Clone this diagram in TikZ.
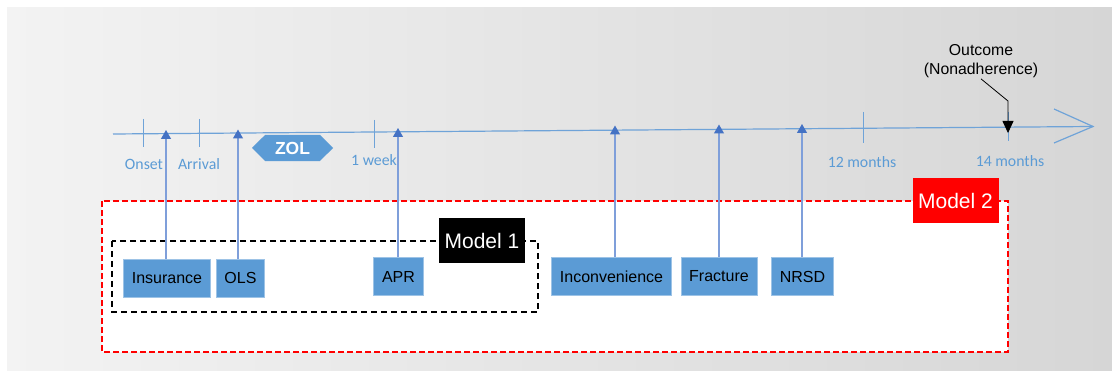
\documentclass[tikz,border=0pt]{standalone}
\usepackage{fontspec}
\setmainfont{Liberation Sans}
\newfontfamily\calf{Carlito}
\usetikzlibrary{arrows.meta,shapes.misc}
\definecolor{bgL}{HTML}{F3F3F3}
\definecolor{bgR}{HTML}{D6D6D6}
\definecolor{boxblue}{HTML}{5B9BD5}
\definecolor{boxedge}{HTML}{9DC3E6}
\definecolor{tline}{HTML}{6FA3D8}
\definecolor{stem}{HTML}{7F9FDA}
\definecolor{headblue}{HTML}{4472C4}
\definecolor{mred}{HTML}{FF0000}
\tikzset{
  factor/.style={fill=boxblue, draw=boxedge, line width=0.8pt, text=black,
    font=\fontsize{16}{18}\selectfont, inner xsep=8.2pt, minimum height=38pt, anchor=center},
  tlabel/.style={text=boxblue, font=\calf\fontsize{15.8}{18}\selectfont},
  tick/.style={draw=tline, line width=1pt},
  upstem/.style={draw=stem, line width=1.1pt, -{Triangle[width=10pt,length=9pt,color=headblue]}},
  modellabel/.style={text=white, font=\fontsize{21}{24}\selectfont, minimum width=86pt, minimum height=45pt, inner sep=0pt},
}
\begin{document}
\begin{tikzpicture}[x=1pt,y=-1pt]
  \useasboundingbox (0,0) rectangle (1112,371);
  \fill[white] (0,0) rectangle (1112,371);
  % gradient backdrop
  \shade[left color=bgL, right color=bgR] (7,8) rectangle (1112,371);

  % Model 2 frame
  \draw[mred, line width=2pt, dash pattern=on 6pt off 3pt, fill=white] (102,201) rectangle (1008,352);
  \node[modellabel, fill=mred] (m2) at (955.5,200.5) {Model 2};

  % Model 1 frame
  \draw[black, line width=1.5pt, dash pattern=on 6pt off 4pt] (112,241) rectangle (538,312);
  \node[modellabel, fill=black] (m1) at (482,240.5) {Model 1};

  % factor boxes
  \node[factor] (ins) at (167,278) {Insurance};
  \node[factor] (ols) at (240.5,278) {OLS};
  \node[factor] (apr) at (398.5,276.5) {APR};
  \node[factor] (inc) at (611.5,276.5) {Inconvenience};
  \node[factor] (fra) at (719,276.5) {Fracture};
  \node[factor] (nrs) at (802.5,276.5) {NRSD};

  % timeline
  \coordinate (t0) at (113,134);
  \coordinate (tend) at (1093,126.5);
  \draw[tline, line width=1.2pt] (t0) -- (tend);
  \coordinate (hu) at (1054,109);
  \coordinate (hd) at (1054,143);
  \draw[tline, line width=1.2pt] (hu) -- (tend) -- (hd);

  % ticks
  \draw[tick] (143,119) -- (143,147);
  \draw[tick] (199,119) -- (199,147);
  \draw[tick] (374,120) -- (374,148);
  \draw[tick] (863,112) -- (863,143);
  \draw[tick] (1008,112) -- (1008,141);

  % time labels
  \node[tlabel] (lon) at (144,164) {Onset};
  \node[tlabel] (lar) at (199,164) {Arrival};
  \node[tlabel] (lwk) at (374,160.5) {1 week};
  \node[tlabel] (l12) at (862,162.5) {12 months};
  \node[tlabel] (l14) at (1010,161.5) {14 months};

  % ZOL window
  \node[chamfered rectangle, chamfered rectangle xsep=9pt, chamfered rectangle ysep=7pt,
        fill=boxblue, text=white, font=\bfseries\fontsize{17.5}{19}\selectfont,
        minimum width=81pt, minimum height=26pt, inner sep=0pt] (zol) at (292.5,148) {ZOL};

  % arrival points of the factors on the timeline
  \coordinate (pins) at (166,130);
  \coordinate (pols) at (238,129.5);
  \coordinate (papr) at (398,128);
  \coordinate (pinc) at (615,125.5);
  \coordinate (pfra) at (719,124.5);
  \coordinate (pnrs) at (802,124);
  \draw[upstem] (ins.north -| pins) -- (pins);
  \draw[upstem] (ols.north -| pols) -- (pols);
  \draw[upstem] (apr.north -| papr) -- (papr);
  \draw[upstem] (inc.north -| pinc) -- (pinc);
  \draw[upstem] (fra.north -| pfra) -- (pfra);
  \draw[upstem] (nrs.north -| pnrs) -- (pnrs);

  % outcome
  \node[align=center, font=\fontsize{15.8}{19}\selectfont, inner sep=1pt] (out) at (981,61) {Outcome\\(Nonadherence)};
  \coordinate (obend) at (1008,101);
  \coordinate (otip) at (1008,133);
  \draw[black, line width=0.8pt, -{Triangle[width=11pt,length=12pt]}] (out.south) -- (obend) -- (otip);
\end{tikzpicture}
\end{document}
